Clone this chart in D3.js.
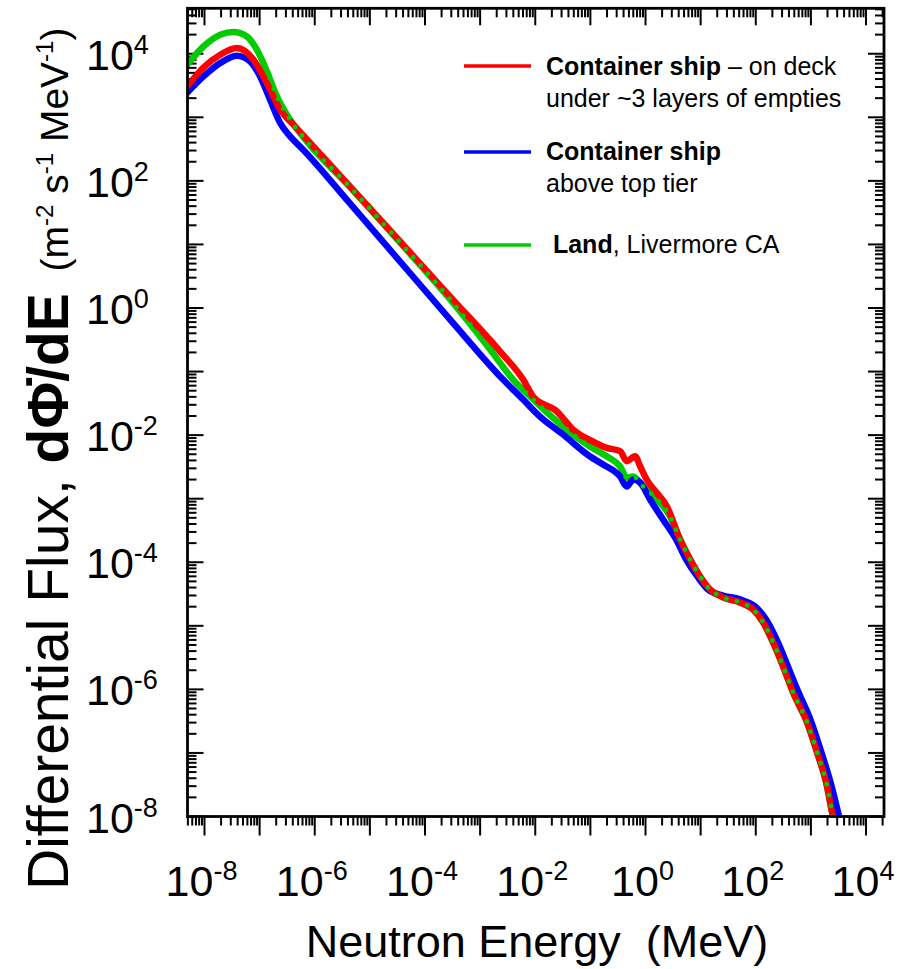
<!DOCTYPE html>
<html><head><meta charset="utf-8">
<script src="https://cdn.jsdelivr.net/npm/d3@7"></script>
<style>
body{margin:0;background:#fff;}
text{font-family:"Liberation Sans",Arial,Helvetica,sans-serif;white-space:pre;}
</style></head>
<body><svg id="chart" width="917" height="969"></svg>
<script>
// ---- data ----
const redE = [4.85e-9, 9.46e-9, 1.93e-8, 3.87e-8, 7.74e-8, 1.17e-7, 1.55e-7, 2.36e-7, 4.11e-7, 8.26e-7, 4.39e-6, 3.54e-5, 2.86e-4, 2.31e-3, 6.03e-3, 9.14e-3, 0.0249, 0.0486, 0.112, 0.199, 0.346, 0.458, 0.647, 0.798, 1.05, 1.60, 2.43, 4.24, 6.44, 9.77, 14.8, 25.5, 51.9, 89.3, 136, 206, 313, 474, 851, 1294, 1963, 2421, 2630];
const redFlux = [3.03e3, 6.03e3, 9.64e3, 1.23e4, 8.05e3, 4.40e3, 2.72e3, 1.32e3, 766, 394, 81.1, 11.1, 1.51, 0.206, 0.0748, 0.0405, 0.0235, 0.0122, 7.93e-3, 6.31e-3, 5.58e-3, 3.89e-3, 4.66e-3, 3.24e-3, 2.00e-3, 1.24e-3, 7.62e-4, 2.28e-4, 1.11e-4, 5.98e-5, 3.73e-5, 2.80e-5, 2.33e-5, 1.81e-5, 1.13e-5, 5.48e-6, 2.30e-6, 8.97e-7, 3.03e-7, 1.02e-7, 2.99e-8, 1.16e-8, 8.5e-9];

const greenE = [4.85e-9, 9.59e-9, 1.93e-8, 3.36e-8, 5.87e-8, 8.91e-8, 1.36e-7, 2.06e-7, 3.12e-7, 7.19e-7, 4.39e-6, 3.54e-5, 2.86e-4, 1.52e-3, 3.96e-3, 8.07e-3, 0.0164, 0.0378, 0.0989, 0.201, 0.346, 0.458, 0.596, 0.904, 1.62, 2.79, 4.24, 6.44, 9.77, 14.8, 25.5, 51.9, 89.3, 136, 206, 313, 474, 851, 1294, 1963, 2421, 2630];
const greenFlux = [6.71e3, 1.30e4, 1.99e4, 2.19e4, 1.87e4, 1.16e4, 5.27e3, 2.13e3, 1.10e3, 418, 79.4, 10.7, 1.36, 0.222, 0.0748, 0.0405, 0.0226, 0.0122, 6.62e-3, 4.61e-3, 3.21e-3, 2.15e-3, 2.23e-3, 1.56e-3, 9.71e-4, 5.25e-4, 2.28e-4, 1.11e-4, 5.98e-5, 3.73e-5, 2.80e-5, 2.33e-5, 1.81e-5, 1.13e-5, 5.48e-6, 2.30e-6, 8.97e-7, 3.03e-7, 1.02e-7, 2.99e-8, 1.16e-8, 8.5e-9];

const blueE = [4.85e-9, 9.59e-9, 1.93e-8, 3.87e-8, 6.75e-8, 1.02e-7, 1.55e-7, 2.36e-7, 3.58e-7, 6.17e-7, 4.39e-6, 3.54e-5, 2.86e-4, 2.61e-3, 6.03e-3, 0.0122, 0.0320, 0.0989, 0.170, 0.346, 0.458, 0.596, 0.798, 1.21, 2.08, 3.59, 5.45, 8.97, 13.6, 24.5, 51.9, 97.1, 154, 243, 370, 585, 1007, 1528, 2323, 3112, 3390];
const blueFlux = [2.44e3, 4.40e3, 7.14e3, 9.31e3, 7.57e3, 4.40e3, 1.89e3, 813, 501, 310, 43.9, 5.37, 0.658, 0.0748, 0.0363, 0.0196, 0.0102, 4.61e-3, 3.45e-3, 2.23e-3, 1.56e-3, 2.00e-3, 1.80e-3, 9.71e-4, 4.71e-4, 2.28e-4, 1.11e-4, 5.77e-5, 3.73e-5, 3.01e-5, 2.60e-5, 2.02e-5, 1.26e-5, 5.89e-6, 2.47e-6, 9.31e-7, 3.14e-7, 1.06e-7, 3.21e-8, 1.16e-8, 8.5e-9];

const xTickExps = [-8, -6, -4, -2, 0, 2, 4];
const yTickExps = [4, 2, 0, -2, -4, -6, -8];
const legendItems = [
  {color: "#ff0000", bold: "Container ship", rest: " \u2013 on deck", line2: "under ~3 layers of empties"},
  {color: "#0000ff", bold: "Container ship", rest: "", line2: "above top tier"},
  {color: "#00cc00", bold: " Land", rest: ", Livermore CA", line2: ""}
];
const xTitle = "Neutron Energy  (MeV)";

// ---- layout ----
const L = 187.5, R = 884, T = 8.3, B = 816.5;
const svg = d3.select("#chart");
const x = d3.scaleLog().domain([Math.pow(10, -8.308), Math.pow(10, 4.326)]).range([L, R]);
const y = d3.scaleLog().domain([1e-8, Math.pow(10, 4.715)]).range([B, T]);

svg.append("defs").append("clipPath").attr("id", "clip")
  .append("rect").attr("x", L).attr("y", T).attr("width", R - L).attr("height", B - T);

// ticks
function minorTicks(lo, hi) {
  const out = [];
  for (let e = Math.floor(lo) - 1; e <= Math.ceil(hi); e++)
    for (let k = 1; k <= 9; k++) {
      const v = k * Math.pow(10, e);
      const lv = Math.log10(v);
      if (lv >= lo - 1e-9 && lv <= hi + 1e-9) out.push({v, major: k === 1});
    }
  return out;
}
const xt = minorTicks(-8.308, 4.326);
const yt = minorTicks(-8, 4.715);
const tk = svg.append("g").attr("stroke", "#000").attr("stroke-width", 2);
xt.forEach(t => {
  const px = x(t.v);
  tk.append("line").attr("x1", px).attr("x2", px).attr("y1", T).attr("y2", T + (t.major ? 17 : 9));
  tk.append("line").attr("x1", px).attr("x2", px).attr("y1", B).attr("y2", B + (t.major ? 19 : 9));
});
yt.forEach(t => {
  const py = y(t.v);
  tk.append("line").attr("y1", py).attr("y2", py).attr("x1", L).attr("x2", L + (t.major ? 16 : 9));
  tk.append("line").attr("y1", py).attr("y2", py).attr("x1", R).attr("x2", R - (t.major ? 16 : 9));
});

// lines
const lineGen = d3.line().x(d => x(d[0])).y(d => y(d[1])).curve(d3.curveMonotoneX);
const zip = (a, b) => a.map((v, i) => [v, b[i]]);
const plot = svg.append("g").attr("clip-path", "url(#clip)").attr("fill", "none")
  .attr("stroke-linejoin", "round").attr("stroke-linecap", "round");
plot.append("path").attr("d", lineGen(zip(greenE, greenFlux))).attr("stroke", "#00cc00").attr("stroke-width", 6.5);
plot.append("path").attr("d", lineGen(zip(blueE, blueFlux))).attr("stroke", "#0000ff").attr("stroke-width", 6.5);
plot.append("path").attr("d", lineGen(zip(redE, redFlux))).attr("stroke", "#ff0000").attr("stroke-width", 6.5);
plot.append("path").attr("d", lineGen(zip(greenE, greenFlux))).attr("stroke", "#00cc00").attr("stroke-width", 4.8)
  .attr("stroke-dasharray", "0 11");

// frame
svg.append("rect").attr("x", L).attr("y", T).attr("width", R - L).attr("height", B - T)
  .attr("fill", "none").attr("stroke", "#000").attr("stroke-width", 2.8);

// tick labels
const supTxt = e => (e < 0 ? "-" : "") + Math.abs(e);
xTickExps.forEach(e => {
  const t = svg.append("text").attr("x", x(Math.pow(10, e)) - 3).attr("y", 896)
    .attr("text-anchor", "middle").attr("font-size", 43);
  t.append("tspan").text("10");
  t.append("tspan").attr("dy", -16).attr("font-size", 27).text(supTxt(e));
});
yTickExps.forEach(e => {
  const t = svg.append("text").attr("x", 86).attr("y", y(Math.pow(10, e)) + 16)
    .attr("font-size", 43);
  t.append("tspan").text("10");
  t.append("tspan").attr("dy", -16).attr("font-size", 27).text(supTxt(e));
});

// axis titles
svg.append("text").attr("x", 537).attr("y", 957).attr("text-anchor", "middle")
  .attr("font-size", 45).text(xTitle);

const yt1 = svg.append("text").attr("transform", "rotate(-90)")
  .attr("x", -890).attr("y", 68).attr("font-size", 57);
yt1.append("tspan").text("Differential Flux, ");
yt1.append("tspan").attr("font-weight", "bold").text("d\u03A6\u0307/dE");
yt1.append("tspan").attr("font-size", 39).text("  (m");
yt1.append("tspan").attr("font-size", 24).attr("dy", -15).text("-2");
yt1.append("tspan").attr("font-size", 39).attr("dy", 15).text(" s");
yt1.append("tspan").attr("font-size", 24).attr("dy", -15).text("-1");
yt1.append("tspan").attr("font-size", 39).attr("dy", 15).text(" MeV");
yt1.append("tspan").attr("font-size", 24).attr("dy", -15).text("-1");
yt1.append("tspan").attr("font-size", 39).attr("dy", 15).text(")");

// legend
const legY = [66, 152, 245];
const textY = [75, 160, 253];
legendItems.forEach((it, i) => {
  svg.append("line").attr("x1", 464).attr("x2", 531).attr("y1", legY[i]).attr("y2", legY[i])
    .attr("stroke", it.color).attr("stroke-width", 3.5);
  const t = svg.append("text").attr("x", 546).attr("y", textY[i]).attr("font-size", 25);
  t.append("tspan").attr("font-weight", "bold").text(it.bold);
  t.append("tspan").text(it.rest);
  if (it.line2) svg.append("text").attr("x", 546).attr("y", textY[i] + 32).attr("font-size", 25).text(it.line2);
});
</script></body></html>
